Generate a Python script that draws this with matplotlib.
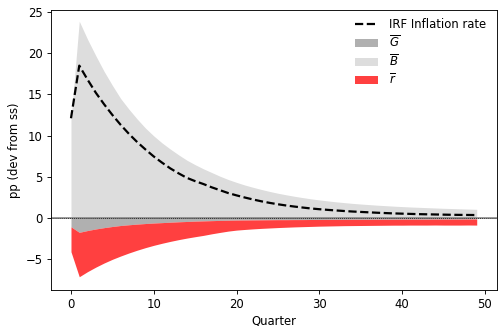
import numpy as np
import matplotlib
matplotlib.use("Agg")
import matplotlib.pyplot as plt

quarters = np.arange(50)

irf_inflation = [12.1, 18.5, 16.8, 15.2, 13.8, 12.5, 11.3, 10.2, 9.2, 8.3,
                 7.45, 6.7, 6.0, 5.4, 4.85, 4.45, 4.1, 3.7, 3.35, 3.0,
                 2.72, 2.46, 2.22, 2.0, 1.81, 1.64, 1.49, 1.36, 1.24, 1.13,
                 1.04, 0.96, 0.89, 0.82, 0.76, 0.71, 0.66, 0.61, 0.57, 0.53,
                 0.5, 0.47, 0.44, 0.42, 0.4, 0.38, 0.36, 0.35, 0.34, 0.33]

B_bar = [11.9, 23.9, 21.7, 19.7, 17.8, 16.1, 14.5, 13.2, 12.0, 10.9,
         9.95, 9.1, 8.35, 7.65, 7.0, 6.45, 5.95, 5.5, 5.05, 4.65,
         4.3, 3.98, 3.7, 3.44, 3.2, 2.98, 2.79, 2.61, 2.45, 2.3,
         2.17, 2.05, 1.94, 1.84, 1.75, 1.67, 1.6, 1.53, 1.47, 1.41,
         1.36, 1.31, 1.27, 1.23, 1.19, 1.15, 1.12, 1.09, 1.06, 1.03]

G_bar = [-1.1, -1.77, -1.55, -1.36, -1.2, -1.06, -0.94, -0.85, -0.77, -0.7,
         -0.64, -0.59, -0.54, -0.49, -0.45, -0.41, -0.38, -0.35, -0.32, -0.3,
         -0.28, -0.27, -0.26, -0.25, -0.24, -0.23, -0.23, -0.22, -0.22, -0.21,
         -0.21, -0.2, -0.2, -0.2, -0.19, -0.19, -0.19, -0.18, -0.18, -0.18,
         -0.17, -0.17, -0.17, -0.17, -0.16, -0.16, -0.16, -0.16, -0.15, -0.15]

r_bar = [-3.03, -5.4, -5.0, -4.64, -4.3, -3.99, -3.71, -3.43, -3.17, -2.93,
         -2.71, -2.51, -2.33, -2.17, -2.02, -1.89, -1.76, -1.6, -1.46, -1.32,
         -1.22, -1.15, -1.09, -1.04, -1.0, -0.96, -0.92, -0.89, -0.86, -0.84,
         -0.81, -0.8, -0.78, -0.76, -0.76, -0.75, -0.74, -0.74, -0.73, -0.72,
         -0.73, -0.72, -0.72, -0.72, -0.72, -0.73, -0.73, -0.73, -0.73, -0.74]

G = np.array(G_bar)
r = np.array(r_bar)
B = np.array(B_bar)

plt.rcParams['font.family'] = ['DejaVu Sans']
plt.rcParams['font.size'] = 10.5

DPI = 80
fig = plt.figure(figsize=(499 / DPI, 326 / DPI), dpi=DPI)
ax = fig.add_axes([0.1016, 0.110, 0.8944, 0.859])

hB = ax.fill_between(quarters, 0, B, color='#dddddd', linewidth=0)
hG = ax.fill_between(quarters, 0, G, color='#b0b0b0', linewidth=0)
hr = ax.fill_between(quarters, G, G + r, color='#ff4040', linewidth=0)
ax.axhline(0, color='#808080', lw=1.4)
ax.axhline(0, color='k', lw=0.7, ls=':')
hl, = ax.plot(quarters, irf_inflation, color='k', lw=2, ls='--')

ax.set_xlim(-2.45, 51.45)
ax.set_ylim(-8.8, 25.25)
ax.set_xlabel('Quarter', labelpad=3)
ax.set_ylabel('pp (dev from ss)')

ax.legend([hl, hG, hB, hr],
          ['IRF Inflation rate', r'$\overline{G}$', r'$\overline{B}$', r'$\overline{r}$'],
          loc='upper right', bbox_to_anchor=(0.993, 1.0), frameon=False,
          handlelength=2.0, handletextpad=0.9, labelspacing=0.3, borderaxespad=0.3)

fig.savefig('out.png', dpi=DPI)
